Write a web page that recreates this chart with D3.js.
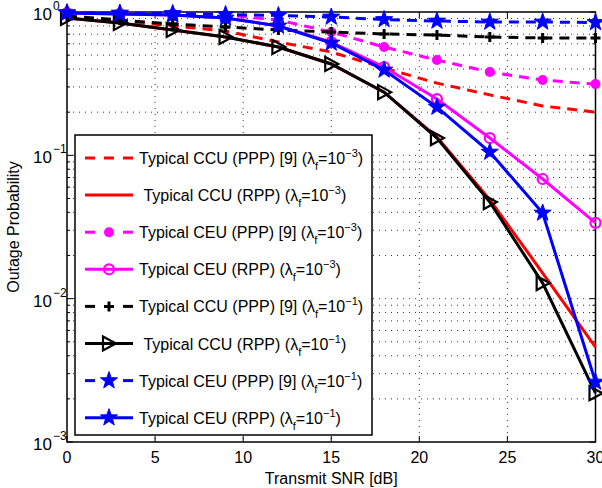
<!DOCTYPE html>
<head>
<meta charset="utf-8">
<title>Outage Probability vs Transmit SNR</title>
<style>
body {
  margin: 0;
  padding: 0;
  background: #fff;
  font-family: "Liberation Sans", Arial, sans-serif;
}
.grid line {
  stroke: #333;
  stroke-width: 1;
  stroke-dasharray: 1,5;
}
text { fill: #000; }
</style>
</head>
<body>
<svg id="viz" width="602" height="488"></svg>
<script src="https://d3js.org/d3.v7.min.js"></script>
<script>

// transmit SNR in dB
var snr = [0, 3, 6, 9, 12, 15, 18, 21, 24, 27, 30]

// lambda_f = 1e-3
var ccuPppLow  = [0.92, 0.865, 0.80, 0.737, 0.617, 0.526, 0.407, 0.319, 0.264, 0.221, 0.20]
var ccuRppLow  = [0.908, 0.838, 0.749, 0.669, 0.57, 0.434, 0.276, 0.134, 0.049, 0.0151, 0.0046]
var ceuPppLow  = [0.99, 0.984, 0.976, 0.953, 0.879, 0.725, 0.57, 0.462, 0.381, 0.335, 0.314]
var ceuRppLow  = [0.984, 0.968, 0.953, 0.908, 0.80, 0.617, 0.413, 0.247, 0.132, 0.0684, 0.0338]

// lambda_f = 1e-1
var ccuPppHigh = [0.938, 0.879, 0.825, 0.786, 0.749, 0.725, 0.702, 0.691, 0.669, 0.659, 0.659]
var ccuRppHigh = [0.908, 0.838, 0.749, 0.669, 0.57, 0.434, 0.276, 0.132, 0.0472, 0.01285, 0.00219]
var ceuPppHigh = [0.99, 0.984, 0.976, 0.961, 0.945, 0.923, 0.886, 0.865, 0.852, 0.852, 0.845]
var ceuRppHigh = [0.984, 0.968, 0.953, 0.908, 0.799, 0.608, 0.394, 0.217, 0.1054, 0.0396, 0.00262]

var xTicks = [0, 5, 10, 15, 20, 25, 30]
var yExps = [0, -1, -2, -3]

var legendNames = [
  ['Typical CCU (PPP) [9] (', '3'],
  ['\u00a0Typical CCU (RPP) (', '3'],
  ['Typical CEU (PPP) [9] (', '3'],
  ['Typical CEU (RPP) (', '3'],
  ['Typical CCU (PPP) [9] (', '1'],
  ['\u00a0Typical CCU (RPP) (', '1'],
  ['Typical CEU (PPP) [9] (', '1'],
  ['Typical CEU (RPP) (', '1']
]

var series = [
  { values: ccuPppLow,  color: '#ff0000', dash: true,  marker: null },
  { values: ccuRppLow,  color: '#ff0000', dash: false, marker: null },
  { values: ceuPppLow,  color: '#ff00ff', dash: true,  marker: 'dot' },
  { values: ceuRppLow,  color: '#ff00ff', dash: false, marker: 'circle' },
  { values: ccuPppHigh, color: '#000000', dash: true,  marker: 'plus' },
  { values: ccuRppHigh, color: '#000000', dash: false, marker: 'tri' },
  { values: ceuPppHigh, color: '#0000ff', dash: true,  marker: 'star' },
  { values: ceuRppHigh, color: '#0000ff', dash: false, marker: 'star' }
]

var svg = d3.select('#viz')
var pL = 67, pR = 595.5, pT = 12, pB = 442

var x = d3.scaleLinear().domain([0, 30]).range([pL, pR])
var y = d3.scaleLog().domain([1e-3, 1]).range([pB, pT])

var minorY = []
for (var k = -3; k < 0; k++) {
  for (var m = 2; m <= 9; m++) minorY.push(m * Math.pow(10, k))
}
var majorY = yExps.map(function(e) { return Math.pow(10, e) })

// grid
var grid = svg.append('g').attr('class', 'grid')
grid.selectAll('.gx').data(xTicks.slice(1, -1)).enter().append('line')
  .attr('x1', function(d) { return x(d) }).attr('x2', function(d) { return x(d) })
  .attr('y1', pT).attr('y2', pB)
grid.selectAll('.gy').data(minorY.concat([0.1, 0.01])).enter().append('line')
  .attr('x1', pL).attr('x2', pR)
  .attr('y1', function(d) { return y(d) }).attr('y2', function(d) { return y(d) })

// axes box + ticks
var axes = svg.append('g')
axes.append('rect').attr('x', pL).attr('y', pT)
  .attr('width', pR - pL).attr('height', pB - pT)
  .attr('fill', 'none').attr('stroke', '#000').attr('stroke-width', 1.5)

xTicks.forEach(function(t) {
  axes.append('line').attr('x1', x(t)).attr('x2', x(t)).attr('y1', pB).attr('y2', pB - 6).attr('stroke', '#000')
  axes.append('line').attr('x1', x(t)).attr('x2', x(t)).attr('y1', pT).attr('y2', pT + 6).attr('stroke', '#000')
  axes.append('text').attr('x', x(t)).attr('y', 463).attr('text-anchor', 'middle')
    .style('font-size', '16px').text(t)
})
majorY.forEach(function(v) {
  axes.append('line').attr('x1', pL).attr('x2', pL + 6).attr('y1', y(v)).attr('y2', y(v)).attr('stroke', '#000')
  axes.append('line').attr('x1', pR).attr('x2', pR - 6).attr('y1', y(v)).attr('y2', y(v)).attr('stroke', '#000')
})
minorY.forEach(function(v) {
  axes.append('line').attr('x1', pL).attr('x2', pL + 3).attr('y1', y(v)).attr('y2', y(v)).attr('stroke', '#000')
  axes.append('line').attr('x1', pR).attr('x2', pR - 3).attr('y1', y(v)).attr('y2', y(v)).attr('stroke', '#000')
})
yExps.forEach(function(e) {
  var yy = y(Math.pow(10, e))
  axes.append('text').attr('x', 52).attr('y', yy + 8)
    .attr('text-anchor', 'end').style('font-size', '17px').text('10')
  axes.append('text').attr('x', 53).attr('y', yy - 2)
    .style('font-size', '12px').text(e === 0 ? '0' : '\u2212' + (-e))
})

axes.append('text').attr('x', (pL + pR) / 2).attr('y', 484)
  .attr('text-anchor', 'middle').style('font-size', '16px').text('Transmit SNR [dB]')
axes.append('text').attr('transform', 'translate(19,' + y(Math.pow(10, -1.5)) + ') rotate(-90)')
  .attr('text-anchor', 'middle').style('font-size', '16px').text('Outage Probability')

// markers
var starPath = (function() {
  var pts = []
  for (var i = 0; i < 10; i++) {
    var r = i % 2 === 0 ? 9 : 3.6
    var a = -Math.PI / 2 + i * Math.PI / 5
    pts.push([r * Math.cos(a), r * Math.sin(a)])
  }
  return 'M' + pts.map(function(p) { return p[0].toFixed(2) + ',' + p[1].toFixed(2) }).join('L') + 'Z'
})()

function drawMarker(g, type, color, cx, cy) {
  if (type === 'dot') {
    g.append('circle').attr('cx', cx).attr('cy', cy).attr('r', 5).attr('fill', color)
  } else if (type === 'circle') {
    g.append('circle').attr('cx', cx).attr('cy', cy).attr('r', 5)
      .attr('fill', 'none').attr('stroke', color).attr('stroke-width', 2.2)
  } else if (type === 'plus') {
    g.append('path').attr('d', 'M' + (cx - 5) + ',' + cy + 'H' + (cx + 5) + 'M' + cx + ',' + (cy - 5) + 'V' + (cy + 5))
      .attr('stroke', color).attr('stroke-width', 3).attr('fill', 'none')
  } else if (type === 'tri') {
    g.append('path').attr('d', 'M' + (cx - 6) + ',' + (cy - 7) + 'L' + (cx + 7) + ',' + cy + 'L' + (cx - 6) + ',' + (cy + 7) + 'Z')
      .attr('stroke', color).attr('stroke-width', 2.2).attr('fill', 'none').attr('stroke-linejoin', 'miter')
  } else if (type === 'star') {
    g.append('path').attr('d', starPath).attr('transform', 'translate(' + cx + ',' + cy + ')')
      .attr('fill', color).attr('stroke', color).attr('stroke-width', 1)
  }
}

var line = d3.line().x(function(d, i) { return x(snr[i]) }).y(function(d) { return y(d) })

var plot = svg.append('g')
series.forEach(function(s) {
  plot.append('path').datum(s.values).attr('d', line)
    .attr('fill', 'none').attr('stroke', s.color).attr('stroke-width', 3)
    .attr('stroke-dasharray', s.dash ? '10,7' : null)
  if (s.marker) {
    s.values.forEach(function(v, i) { drawMarker(plot, s.marker, s.color, x(snr[i]), y(v)) })
  }
})

// legend
var lg = svg.append('g')
lg.append('rect').attr('x', 75).attr('y', 135).attr('width', 297).attr('height', 300)
  .attr('fill', '#fff').attr('stroke', '#000').attr('stroke-width', 1.5)

series.forEach(function(s, i) {
  var cy = 158 + i * 37.1
  if (s.dash) {
    lg.append('line').attr('x1', 85).attr('x2', 95).attr('y1', cy).attr('y2', cy)
      .attr('stroke', s.color).attr('stroke-width', 3)
    lg.append('line').attr('x1', 123).attr('x2', 133).attr('y1', cy).attr('y2', cy)
      .attr('stroke', s.color).attr('stroke-width', 3)
    if (!s.marker) {
      lg.append('line').attr('x1', 104).attr('x2', 114).attr('y1', cy).attr('y2', cy)
        .attr('stroke', s.color).attr('stroke-width', 3)
    }
  } else {
    lg.append('line').attr('x1', 85).attr('x2', 133).attr('y1', cy).attr('y2', cy)
      .attr('stroke', s.color).attr('stroke-width', 3)
  }
  if (s.marker) drawMarker(lg, s.marker, s.color, 109, cy)

  var name = legendNames[i]
  var t = lg.append('text').attr('x', 139).attr('y', cy + 6).style('font-size', '16px')
  t.append('tspan').text(name[0] + '\u03bb')
  t.append('tspan').attr('dy', 6).style('font-size', '11px').text('f')
  t.append('tspan').attr('dy', -6).text('=10')
  t.append('tspan').attr('dy', -7).style('font-size', '11px').text('\u2212' + name[1])
  t.append('tspan').attr('dy', 7).text(')')
})

</script>
</body>
</html>
